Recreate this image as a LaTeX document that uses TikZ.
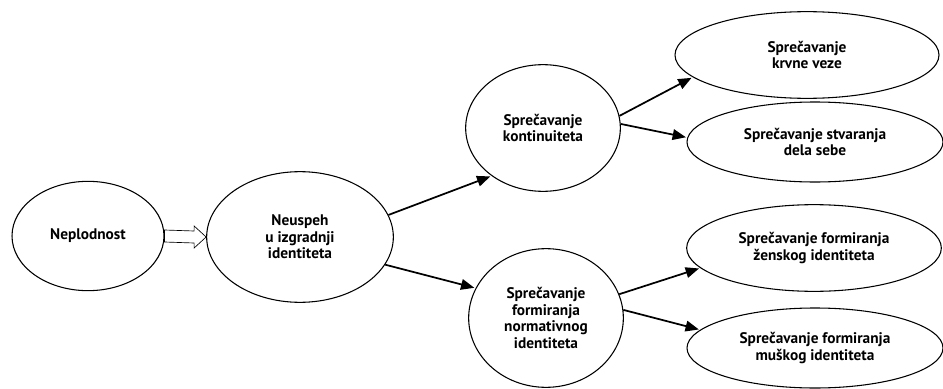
\documentclass[tikz,border=0pt]{standalone}
\usepackage{fontspec}
\setmainfont{PT Sans}
\usetikzlibrary{shapes.geometric,arrows.meta}

\tikzset{
  ell/.style={draw, ellipse, line width=0.8pt, inner sep=0pt, align=center,
    font=\fontsize{11.5}{12.5}\selectfont\bfseries},
  link/.style={-{Triangle[length=10pt,width=8pt]}, line width=1.3pt, shorten >=1pt},
  hollow/.style={line width=0.5pt, line join=miter}
}

\begin{document}
\begin{tikzpicture}[x=0.75pt, y=-0.75pt]
    \useasboundingbox (0,0) rectangle (943,389);
    % Left part
    \node[ell, minimum width=114pt, minimum height=82pt] (nep) at (88,236) {Neplodnost};
    \node[ell, minimum width=140pt, minimum height=98pt] (neu) at (300,237) {Neuspeh\\u izgradnji\\identiteta};
    % Middle part
    \node[ell, minimum width=116pt, minimum height=95pt] (kont) at (543,128) {Sprečavanje\\kontinuiteta};
    \node[ell, minimum width=116pt, minimum height=104pt] (norm) at (546,318) {Sprečavanje\\formiranja\\normativnog\\identiteta};
    % Right part
    \node[ell, minimum width=198pt, minimum height=65pt] (krv) at (807,55) {Sprečavanje\\krvne veze};
    \node[ell, minimum width=192pt, minimum height=60pt] (stv) at (815,142) {Sprečavanje stvaranja\\dela sebe};
    \node[ell, minimum width=191pt, minimum height=65pt] (zen) at (814,248) {Sprečavanje formiranja\\ženskog identiteta};
    \node[ell, minimum width=192pt, minimum height=60pt] (mus) at (815,348) {Sprečavanje formiranja\\muškog identiteta};
    % Hollow arrow
    \draw[hollow] ([yshift=4.5pt]nep.east) -- ([xshift=-9pt,yshift=4.5pt]neu.west)
        -- ([xshift=-9pt,yshift=8.25pt]neu.west) -- (neu.west)
        -- ([xshift=-9pt,yshift=-8.25pt]neu.west) -- ([xshift=-9pt,yshift=-4.5pt]neu.west)
        -- ([yshift=-4.5pt]nep.east) -- cycle;
    % Arrows
    \draw[link] (neu.14) -- (kont.223);
    \draw[link] (neu.342) -- (norm.157);
    \draw[link] (kont.9) -- (krv.191);
    \draw[link] (kont.3) -- (stv.178);
    \draw[link] (norm.18) -- (zen.190);
    \draw[link] (norm.6) -- (mus.171);
\end{tikzpicture}
\end{document}
